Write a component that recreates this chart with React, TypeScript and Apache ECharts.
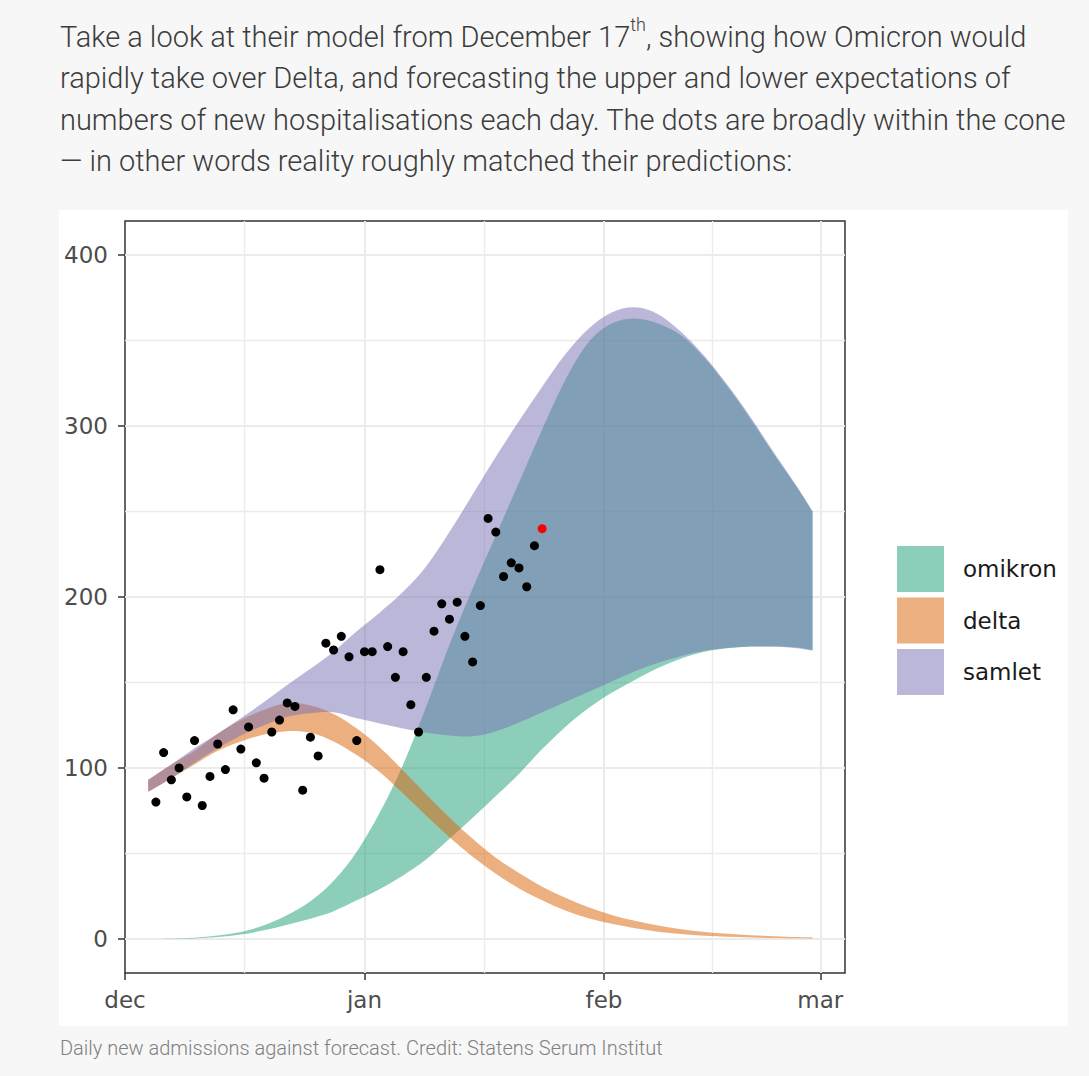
import { useEffect, useRef } from "react";
import * as echarts from "echarts";

// ---------- text ----------
const paragraphLines = [
  "Take a look at their model from December 17{sup|th}, showing how Omicron would",
  "rapidly take over Delta, and forecasting the upper and lower expectations of",
  "numbers of new hospitalisations each day. The dots are broadly within the cone",
  "— in other words reality roughly matched their predictions:",
];
const caption = "Daily new admissions against forecast. Credit: Statens Serum Institut";

// ---------- axes ----------
const xOrigin = "2021-12-01";
const xTickDates = ["2021-12-01", "2022-01-01", "2022-02-01", "2022-03-01"];
const xTickLabels = ["dec", "jan", "feb", "mar"];
const xMinorDates = ["2021-12-16 12:00", "2022-01-16 12:00", "2022-02-15"];
const yTicks = [0, 100, 200, 300, 400];
const yMinorTicks = [50, 150, 250, 350];

// ---------- forecast bands ----------
const forecastDates = [
  "2021-12-04", "2021-12-07", "2021-12-10", "2021-12-13", "2021-12-16",
  "2021-12-19", "2021-12-22", "2021-12-25", "2021-12-28", "2021-12-31",
  "2022-01-03", "2022-01-06", "2022-01-09", "2022-01-12", "2022-01-15",
  "2022-01-18", "2022-01-21", "2022-01-24", "2022-01-27", "2022-01-30",
  "2022-02-02", "2022-02-05", "2022-02-08", "2022-02-11", "2022-02-14",
  "2022-02-17", "2022-02-20", "2022-02-23", "2022-02-26", "2022-02-28",
];
const omikronLow = [0, 0, 0.2, 1, 2.5, 5, 8.3, 11.8, 16.2, 22.5, 29.2, 37.1, 46.5, 58.5, 70.9, 83.6, 96.5, 111, 124, 135, 144, 151.5, 158.5, 164, 168, 170, 171, 171, 170.5, 169];
const omikronHigh = [0, 0.2, 0.6, 2, 4, 8, 14, 22, 34, 51, 74, 102, 136, 172, 205, 236, 267, 298, 327, 349, 360, 363, 360, 353, 340, 323, 304, 283.5, 264, 250];
const deltaLow = [86, 94, 102, 110, 115.5, 119.5, 121.5, 120.5, 115.5, 107.5, 97.5, 85, 72, 59.5, 48, 38, 29.5, 22.5, 16.5, 12, 8.8, 6.2, 4.2, 2.8, 1.8, 1.2, 0.8, 0.5, 0.3, 0.2];
const deltaHigh = [93, 102, 110, 120, 128, 134, 138, 136.5, 131.5, 123, 112, 98.5, 84.5, 71, 58.5, 47.5, 38.5, 30.5, 24, 18.5, 14, 10.5, 7.8, 5.6, 4, 3, 2.1, 1.5, 1, 0.8];
const samletLow = [86, 94, 103, 111.5, 119, 125, 130, 132, 132.5, 129, 126, 123, 120.5, 119, 118.5, 121.5, 126.5, 132.5, 138.5, 144.5, 150.5, 156.5, 161.5, 165.5, 168.5, 170.3, 171, 171, 170, 168.5];
const samletHigh = [93, 102, 111.5, 120, 129, 138.5, 148.5, 158, 168, 180, 191, 203, 218, 238, 260, 282, 303, 323, 342, 357, 366.5, 369.5, 365.5, 355, 341, 324, 305, 284.5, 264.5, 250];

// ---------- observed daily admissions ----------
const admissionDates = [
  "2021-12-05", "2021-12-06", "2021-12-07", "2021-12-08", "2021-12-09", "2021-12-10",
  "2021-12-11", "2021-12-12", "2021-12-13", "2021-12-14", "2021-12-15", "2021-12-16",
  "2021-12-17", "2021-12-18", "2021-12-19", "2021-12-20", "2021-12-21", "2021-12-22",
  "2021-12-23", "2021-12-24", "2021-12-25", "2021-12-26", "2021-12-27", "2021-12-28",
  "2021-12-29", "2021-12-30", "2021-12-31", "2022-01-01", "2022-01-02", "2022-01-03",
  "2022-01-04", "2022-01-05", "2022-01-06", "2022-01-07", "2022-01-08", "2022-01-09",
  "2022-01-10", "2022-01-11", "2022-01-12", "2022-01-13", "2022-01-14", "2022-01-15",
  "2022-01-16", "2022-01-17", "2022-01-18", "2022-01-19", "2022-01-20", "2022-01-21",
  "2022-01-22", "2022-01-23", "2022-01-24",
];
const admissions = [
  80, 109, 93, 100, 83, 116, 78, 95, 114, 99, 134, 111, 124, 103, 94, 121, 128, 138,
  136, 87, 118, 107, 173, 169, 177, 165, 116, 168, 168, 216, 171, 153, 168, 137, 121,
  153, 180, 196, 187, 197, 177, 162, 195, 246, 238, 212, 220, 217, 206, 230, 240,
];
const latestIndex = admissions.length - 1;

const legendNames = ["omikron", "delta", "samlet"];
const legendColors = ["rgba(27,158,119,0.5)", "rgba(217,95,2,0.5)", "rgba(117,112,179,0.5)"];

const FONT_AXIS = "DejaVu Sans";
const FONT_TEXT = "Roboto";

// A filled band between two smooth (Catmull-Rom) curves, ends cut straight.
let bandRegistered = false;
function registerBand() {
  if (bandRegistered) return;
  bandRegistered = true;
  const BandShape = (echarts.graphic as any).extendShape({
    type: "ribbon",
    shape: { upper: [] as number[][], lower: [] as number[][] },
    buildPath(ctx: any, shape: any) {
      const curve = (pts: number[][], move: boolean) => {
        if (!pts.length) return;
        if (move) ctx.moveTo(pts[0][0], pts[0][1]);
        else ctx.lineTo(pts[0][0], pts[0][1]);
        const t = 1 / 6;
        for (let i = 0; i < pts.length - 1; i++) {
          const p0 = pts[i - 1] || pts[i];
          const p1 = pts[i];
          const p2 = pts[i + 1];
          const p3 = pts[i + 2] || p2;
          ctx.bezierCurveTo(
            p1[0] + (p2[0] - p0[0]) * t,
            p1[1] + (p2[1] - p0[1]) * t,
            p2[0] - (p3[0] - p1[0]) * t,
            p2[1] - (p3[1] - p1[1]) * t,
            p2[0],
            p2[1]
          );
        }
      };
      curve(shape.upper, true);
      curve(shape.lower.slice().reverse(), false);
      ctx.closePath();
    },
  });
  echarts.graphic.registerShape("ribbon", BandShape);
}

export default function App() {
  const ref = useRef<HTMLDivElement>(null);

  useEffect(() => {
    if (!ref.current) return;
    registerBand();
    const chart = echarts.init(ref.current, undefined, { renderer: "svg" });
    const t0 = +echarts.time.parse(xOrigin);
    // day offset from 1 December 2021
    const D = (d: string) => Math.round((+echarts.time.parse(d) - t0) / 3600000) / 24;

    const xTickValues = xTickDates.map(D);
    const days = forecastDates.map(D);

    const band = (name: string, lo: number[], hi: number[], color: string): any => ({
      type: "custom",
      name,
      coordinateSystem: "cartesian2d",
      silent: true,
      clip: false,
      z: 2,
      data: days.map((d, i) => [d, lo[i], hi[i]]),
      encode: { x: 0, y: [1, 2] },
      renderItem: (params: any, api: any) => {
        if (params.dataIndex !== 0) return null;
        return {
          type: "ribbon",
          shape: {
            upper: days.map((d, i) => api.coord([d, hi[i]])),
            lower: days.map((d, i) => api.coord([d, lo[i]])),
          },
          style: { fill: color, stroke: null },
        };
      },
    });

    const graphics: any[] = [
      { type: "rect", z: -10, silent: true, shape: { x: 59, y: 210, width: 1009, height: 816 }, style: { fill: "#ffffff" } },
      ...paragraphLines.map((t, i) => ({
        type: "text",
        silent: true,
        x: 60,
        y: 36.5 + i * 41.6,
        style: {
          text: t,
          fontSize: 29,
          fontFamily: FONT_TEXT,
          fontWeight: 300,
          fill: "#3c3c3c",
          verticalAlign: "middle",
          lineHeight: 42,
          rich: {
            sup: { fontSize: 18, fontFamily: FONT_TEXT, fontWeight: 300, fill: "#3c3c3c", lineHeight: 14, verticalAlign: "top" },
          },
        },
      })),
      {
        type: "text",
        silent: true,
        x: 60,
        y: 1048,
        style: { text: caption, fontSize: 20, fontFamily: FONT_TEXT, fontWeight: 300, fill: "#808080", verticalAlign: "middle" },
      },
      ...legendNames.flatMap((n, i) => [
        { type: "rect", silent: true, shape: { x: 897, y: 546 + i * 51.5, width: 47, height: 46 }, style: { fill: legendColors[i] } },
        {
          type: "text",
          silent: true,
          x: 963,
          y: 569 + i * 51.5,
          style: { text: n, fontSize: 23, fontFamily: FONT_AXIS, fill: "#1a1a1a", verticalAlign: "middle" },
        },
      ]),
    ];

    chart.setOption({
      animation: false,
      backgroundColor: "#f7f7f7",
      grid: {
        left: 125,
        top: 221,
        width: 720,
        height: 752,
        show: true,
        borderColor: "#333333",
        borderWidth: 1.5,
        backgroundColor: "transparent",
        containLabel: false,
        outerBoundsMode: "none",
      },
      xAxis: {
        type: "value",
        min: 0,
        max: 93.2,
        axisLine: { show: false, onZero: false },
        splitLine: { show: false },
        axisTick: { show: true, customValues: xTickValues, length: 7, lineStyle: { color: "#333333", width: 1.5 } },
        axisLabel: {
          customValues: xTickValues,
          showMinLabel: true,
          showMaxLabel: true,
          margin: 15,
          fontFamily: FONT_AXIS,
          fontSize: 23,
          color: "#4d4d4d",
          formatter: (v: number) => {
            const k = xTickValues.indexOf(v);
            return k >= 0 ? xTickLabels[k] : "";
          },
        },
      },
      yAxis: {
        type: "value",
        min: -20,
        max: 420,
        axisLine: { show: false },
        splitLine: { show: false },
        axisTick: { show: true, customValues: yTicks, length: 7, lineStyle: { color: "#333333", width: 1.5 } },
        axisLabel: {
          customValues: yTicks,
          margin: 17,
          fontFamily: FONT_AXIS,
          fontSize: 23,
          color: "#4d4d4d",
        },
      },
      graphic: graphics,
      series: [
        band("omikron", omikronLow, omikronHigh, legendColors[0]),
        band("delta", deltaLow, deltaHigh, legendColors[1]),
        band("samlet", samletLow, samletHigh, legendColors[2]),
        {
          type: "scatter",
          name: "indlagte",
          symbolSize: 9,
          silent: true,
          z: 5,
          itemStyle: { color: "#000000", opacity: 1 },
          data: admissionDates.map((d, i) =>
            i === latestIndex
              ? { value: [D(d), admissions[i]], itemStyle: { color: "#ff0000", opacity: 1 } }
              : [D(d), admissions[i]]
          ),
          markLine: {
            silent: true,
            symbol: "none",
            z: 1,
            label: { show: false },
            emphasis: { disabled: true },
            animation: false,
            data: [
              ...yTicks.map((v) => ({ yAxis: v, lineStyle: { color: "#ebebeb", width: 2, type: "solid" } })),
              ...yMinorTicks.map((v) => ({ yAxis: v, lineStyle: { color: "#ebebeb", width: 1.3, type: "solid" } })),
              ...xTickValues.slice(1).map((v) => ({ xAxis: v, lineStyle: { color: "#ebebeb", width: 2, type: "solid" } })),
              ...xMinorDates.map((d) => ({ xAxis: D(d), lineStyle: { color: "#ebebeb", width: 1.3, type: "solid" } })),
            ],
          },
        },
      ],
    });

    return () => chart.dispose();
  }, []);

  return (
    <div
      ref={ref}
      style={{ position: "absolute", left: 0, top: 0, width: 1089, height: 1076 }}
    />
  );
}
